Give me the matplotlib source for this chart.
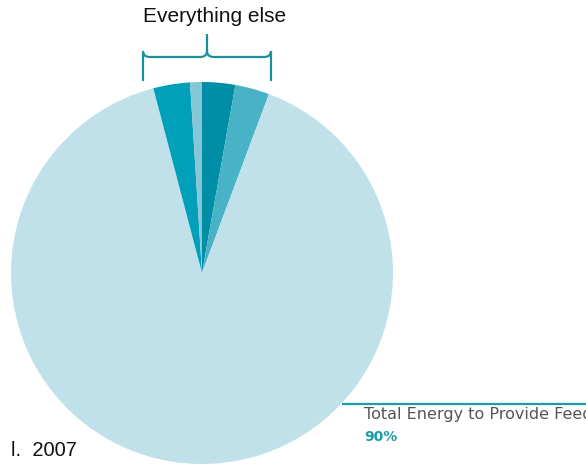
import matplotlib
matplotlib.use("Agg")
import matplotlib.pyplot as plt
from matplotlib.path import Path
from matplotlib.patches import PathPatch

# Data (percent shares, clockwise from top)
labels = ["Slice A", "Slice B", "Total Energy to Provide Feed", "Slice C", "Slice D"]
values = [2.8, 2.9, 90.2, 3.1, 1.0]
colors = ["#008da6", "#48b2c7", "#c1e1ea", "#00a0b9", "#86c6d7"]

W, H = 586, 466
fig = plt.figure(figsize=(W / 100, H / 100), dpi=100)
ax = fig.add_axes([0, 0, 1, 1])

cx, cy, r = 202, H - 273, 191
ax.pie(values, colors=colors, startangle=90, counterclock=False,
       center=(cx, cy), radius=r, frame=True,
       wedgeprops=dict(linewidth=0))
ax.set_xlim(0, W)
ax.set_ylim(0, H)
ax.set_aspect("equal")
ax.axis("off")

# Brace over the small slices
teal = "#1b8f9b"
yb = H - 81
ym = H - 57
verts = [(143, yb), (143, ym + 6), (143, ym), (150, ym),
         (200, ym), (207, ym), (207, ym + 6),
         (207, H - 34)]
codes = [Path.MOVETO, Path.LINETO, Path.CURVE3, Path.CURVE3,
         Path.LINETO, Path.CURVE3, Path.CURVE3, Path.LINETO]
ax.add_patch(PathPatch(Path(verts, codes), fill=False, edgecolor=teal, lw=1.6))
verts2 = [(271, yb), (271, ym + 6), (271, ym), (264, ym),
          (214, ym), (207, ym), (207, ym + 6)]
codes2 = [Path.MOVETO, Path.LINETO, Path.CURVE3, Path.CURVE3,
          Path.LINETO, Path.CURVE3, Path.CURVE3]
ax.add_patch(PathPatch(Path(verts2, codes2), fill=False, edgecolor=teal, lw=1.6))

ax.text(215, H - 17, "Everything else", ha="center", va="center",
        fontsize=15, family="Liberation Sans", color="#111111")

# Callout for the big slice
ax.plot([342, W], [H - 404, H - 404], color="#1a9aab", lw=1.6, solid_capstyle="butt")
ax.text(364, H - 415, labels[2], ha="left", va="center", fontsize=11.5,
        family="DejaVu Sans", color="#555555")
ax.text(364, H - 437, f"{values[2]:.0f}%", ha="left", va="center", fontsize=10,
        family="DejaVu Sans", fontweight="bold", color="#1a9aab")

ax.text(77, H - 450, "l.  2007", ha="right", va="center", fontsize=14.5,
        family="Liberation Sans", color="#111111")

fig.savefig("out.png", dpi=100)
